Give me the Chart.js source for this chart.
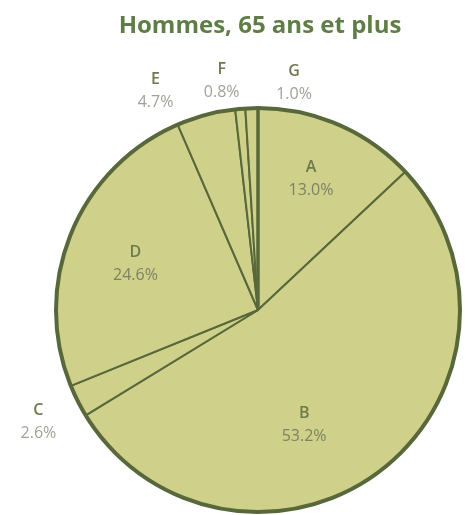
<!DOCTYPE html>
<html>
<head>
<meta charset="utf-8">
<script src="https://cdn.jsdelivr.net/npm/chart.js@4/dist/chart.umd.min.js"></script>
<style>
  html, body { margin: 0; padding: 0; background: #ffffff; }
  #wrap { position: relative; width: 469px; height: 515px; }
</style>
</head>
<body>
<div id="wrap"><canvas id="pieChart"></canvas></div>
<script>
var titleText = "Hommes, 65 ans et plus";
var categories = ["A", "B", "C", "D", "E", "F", "G"];
var shares = [13.0, 53.2, 2.6, 24.6, 4.7, 0.8, 1.0];
var shareLabels = ["13.0%", "53.2%", "2.6%", "24.6%", "4.7%", "0.8%", "1.0%"];

// where each label sits: angle (deg, clockwise from top) and distance as part of the radius
var labelSpots = [[22, 0.70], [158, 0.61], [243, 1.22], [291, 0.65], [335, 1.20], [351, 1.15], [9, 1.14]];

var fill = "#cfd18b";
var edge = "#58683a";

var pieLabels = {
    id: "pieLabels",
    afterDatasetsDraw: function (chart) {
        var ctx = chart.ctx;
        var arc = chart.getDatasetMeta(0).data[0];
        var cx = arc.x, cy = arc.y, r = arc.outerRadius;

        // heavier outer rim
        ctx.save();
        ctx.beginPath();
        ctx.arc(cx, cy, r, 0, Math.PI * 2);
        ctx.lineWidth = 4;
        ctx.strokeStyle = edge;
        ctx.stroke();
        // the starting radius is drawn heavier too
        ctx.beginPath();
        ctx.moveTo(cx, cy);
        ctx.lineTo(cx, cy - r);
        ctx.lineWidth = 3.5;
        ctx.stroke();
        ctx.restore();

        ctx.save();
        ctx.textAlign = "center";
        ctx.textBaseline = "middle";
        categories.forEach(function (cat, i) {
            var a = labelSpots[i][0] * Math.PI / 180;
            var d = labelSpots[i][1] * r;
            var x = cx + Math.sin(a) * d;
            var y = cy - Math.cos(a) * d;
            var outside = labelSpots[i][1] > 1;
            ctx.font = "600 16px 'Open Sans'";
            ctx.fillStyle = "#6c7a4c";
            ctx.fillText(cat, x, y - 11);
            ctx.font = "16px 'Open Sans'";
            ctx.fillStyle = outside ? "#a0a296" : "#7c8262";
            ctx.fillText(shareLabels[i], x, y + 12);
        });
        ctx.restore();

        // title centred over the pie
        ctx.save();
        ctx.textAlign = "center";
        ctx.textBaseline = "middle";
        ctx.font = "bold 24px 'Open Sans'";
        ctx.fillStyle = "#5f7d46";
        ctx.fillText(titleText, cx + 2, 26);
        ctx.restore();
    }
};

new Chart(document.getElementById("pieChart").getContext("2d"), {
    type: "pie",
    data: {
        labels: categories,
        datasets: [{
            data: shares,
            backgroundColor: fill,
            borderColor: edge,
            borderWidth: 2,
            radius: 202
        }]
    },
    options: {
        responsive: true,
        maintainAspectRatio: false,
        animation: false,
        layout: { padding: { left: 47, right: 0, top: 105, bottom: 0 } },
        plugins: {
            legend: { display: false },
            tooltip: { enabled: false },
            title: { display: false }
        }
    },
    plugins: [pieLabels]
});
</script>
</body>
</html>
